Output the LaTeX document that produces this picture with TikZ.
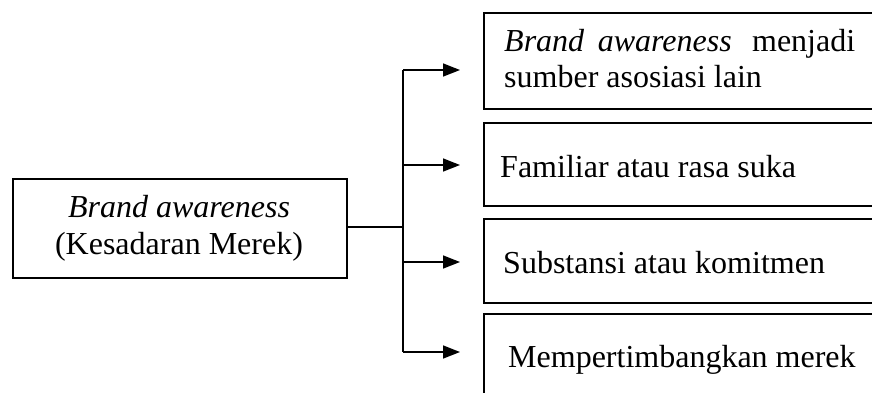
\documentclass[tikz,border=0pt]{standalone}
\usepackage{fontspec}
\setmainfont{Liberation Serif}
\usetikzlibrary{arrows.meta}
\begin{document}
\begin{tikzpicture}[x=1pt,y=-1pt,
  box/.style={draw,line width=1.5pt,inner sep=0pt,anchor=north west},
  txt/.style={inner sep=0pt,font=\fontsize{32}{37}\selectfont},
  link/.style={line width=1.5pt},
  arr/.style={line width=1.5pt,-{Triangle[length=17pt,width=13pt]},shorten >=23pt}]
\useasboundingbox (0,0) rectangle (872,392);
\clip (0,0) rectangle (872,392);
% boxes
\node[box,minimum width=334pt,minimum height=99pt] (L) at (12,178) {};
\node[box,minimum width=440pt,minimum height=96pt] (b1) at (483,12) {};
\node[box,minimum width=440pt,minimum height=83pt] (b2) at (483,122) {};
\node[box,minimum width=440pt,minimum height=84pt] (b3) at (483,218) {};
\node[box,minimum width=440pt,minimum height=100pt] (b4) at (483,313) {};
% texts
\node[txt,anchor=base] (Lt1) at (179,217) {\textit{Brand awareness}};
\node[txt,anchor=base] (Lt2) at (179,254) {(Kesadaran Merek)};
\node[txt,anchor=base west,text width=351pt] (t1a) at (504,51) {\textit{Brand\hspace{3pt} awareness}\hfill menjadi};
\node[txt,anchor=base west] (t1b) at (504,87) {sumber asosiasi lain};
\node[txt,anchor=base west] (t2) at (500,177) {Familiar atau rasa suka};
\node[txt,anchor=base west] (t3) at (503,273) {Substansi atau komitmen};
\node[txt,anchor=base west] (t4) at (508,367) {Mempertimbangkan merek};
% connectors
\coordinate (bus) at (403,227);
\coordinate (a1) at (403,70);
\coordinate (a2) at (403,165);
\coordinate (a3) at (403,262);
\coordinate (a4) at (403,352);
\draw[link] (L.east |- bus) -- (bus);
\draw[link] (a1) -- (a4);
\draw[arr] (a1) -- (a1 -| b1.west);
\draw[arr] (a2) -- (a2 -| b2.west);
\draw[arr] (a3) -- (a3 -| b3.west);
\draw[arr] (a4) -- (a4 -| b4.west);
\end{tikzpicture}
\end{document}
